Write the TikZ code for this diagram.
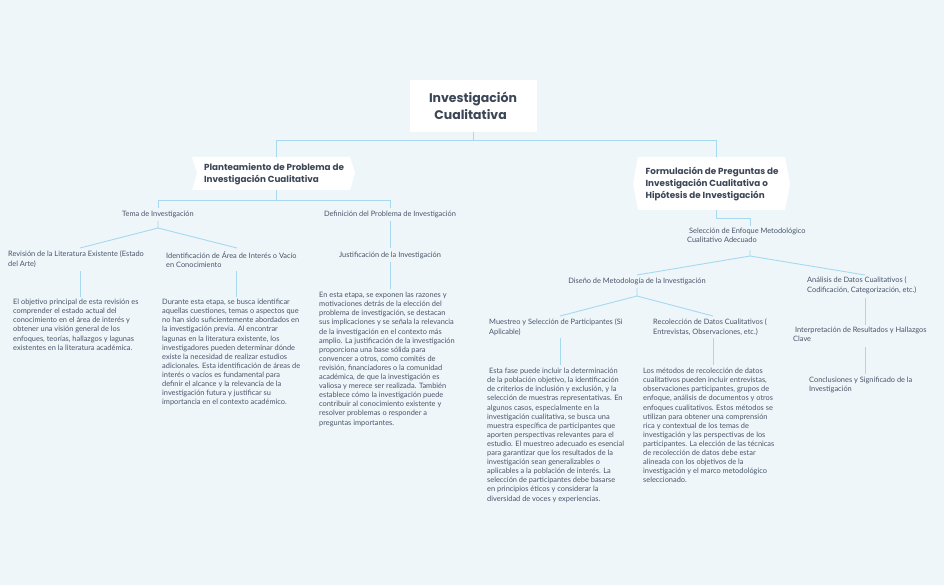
\documentclass[tikz,border=0pt]{standalone}
\usepackage{fontspec}
\setmainfont{Lato}
\newfontfamily\headfont{Poppins}
\definecolor{bg}{HTML}{EEF6FA}
\definecolor{ln}{HTML}{A6D9F0}
\definecolor{tx}{HTML}{4A5568}
\definecolor{tt}{HTML}{3B4656}
\begin{document}
\begin{tikzpicture}[x=1pt,y=-1pt,
  lbl/.style={text=tx,font=\fontsize{7.4}{9.2}\selectfont,inner sep=0pt,align=left},
  par/.style={text=tx,font=\fontsize{7.4}{9.1}\selectfont,inner sep=0pt,align=left,anchor=north west},
  hd/.style={text=tt,font=\headfont\bfseries\fontsize{8.8}{12}\selectfont,align=left,inner sep=0pt},
  con/.style={draw=ln,line width=0.9pt}]
\fill[bg] (0,0) rectangle (944,585);
\useasboundingbox (0,0) rectangle (944,585);
% title
\fill[white] (410,80) rectangle (537,132);
\node[text=tt,font=\headfont\bfseries\fontsize{12.5}{17}\selectfont,align=left,inner sep=0pt] (t) at (473,106) {Investigación\\\ \ Cualitativa};
% level 1 boxes
\fill[white] (192,157) -- (350,157) -- (355,173) -- (350,190) -- (192,190) -- (197,173) -- cycle;
\node[hd] (a) at (274,174) {Planteamiento de Problema de\\Investigación Cualitativa};
\fill[white] (638,157) -- (785,157) -- (790,184) -- (785,210) -- (638,210) -- (633,184) -- cycle;
\node[hd] (b) at (712,184) {Formulación de Preguntas de\\Investigación Cualitativa o\\Hipótesis de Investigación};
\draw[con] (473,132) -- (473,140) -| (276,157);
\draw[con] (473,140) -| (716,157);
% left branch
\node[lbl] (tema) at (158,214) {Tema de Investigación};
\node[lbl] (defi) at (390,214) {Definición del Problema de Investigación};
\draw[con] (276,190) -- (276,200) -| (158,208);
\draw[con] (276,200) -| (390,208);
\draw[con] (158,221) -- (158,228) -- (80,248);
\draw[con] (158,228) -- (237,248);
\node[lbl,anchor=north west] (rev) at (8,251) {Revisión de la Literatura Existente (Estado\\del Arte)};
\node[lbl,anchor=north west] (ide) at (166,251) {Identificación de Área de Interés o Vacío\\en Conocimiento};
\draw[con] (80,271) -- (80,297);
\draw[con] (236,271) -- (236,297);
\node[par] (p1) at (13,299) {El objetivo principal de esta revisión es\\comprender el estado actual del\\conocimiento en el área de interés y\\obtener una visión general de los\\enfoques, teorías, hallazgos y lagunas\\existentes en la literatura académica.};
\node[par] (p2) at (162,299) {Durante esta etapa, se busca identificar\\aquellas cuestiones, temas o aspectos que\\no han sido suficientemente abordados en\\la investigación previa. Al encontrar\\lagunas en la literatura existente, los\\investigadores pueden determinar dónde\\existe la necesidad de realizar estudios\\adicionales. Esta identificación de áreas de\\interés o vacíos es fundamental para\\definir el alcance y la relevancia de la\\investigación futura y justificar su\\importancia en el contexto académico.};
\draw[con] (390,221) -- (390,248);
\node[lbl] (jus) at (390,255) {Justificación de la Investigación};
\draw[con] (390,262) -- (390,289);
\node[par] (p3) at (319,292) {En esta etapa, se exponen las razones y\\motivaciones detrás de la elección del\\problema de investigación, se destacan\\sus implicaciones y se señala la relevancia\\de la investigación en el contexto más\\amplio. La justificación de la investigación\\proporciona una base sólida para\\convencer a otros, como comités de\\revisión, financiadores o la comunidad\\académica, de que la investigación es\\valiosa y merece ser realizada. También\\establece cómo la investigación puede\\contribuir al conocimiento existente y\\resolver problemas o responder a\\preguntas importantes.};
% right branch
\draw[con] (716,210) -- (716,218) -| (750,226);
\node[lbl,anchor=north west] (sel) at (687,228) {\ Selección de Enfoque Metodológico\\Cualitativo Adecuado};
\draw[con] (750,250) -- (750,256) -- (637,275);
\draw[con] (750,256) -- (865,275);
\node[lbl] (dis) at (637,281) {Diseño de Metodología de la Investigación};
\node[lbl,anchor=north west] (ana) at (807,277) {Análisis de Datos Cualitativos (\\Codificación, Categorización, etc.)};
\draw[con] (637,288) -- (637,296) -- (560,316);
\draw[con] (637,296) -- (713,316);
\node[lbl,anchor=north west] (mue) at (489,319) {Muestreo y Selección de Participantes (Si\\Aplicable)};
\node[lbl,anchor=north west] (rec) at (653,319) {Recolección de Datos Cualitativos (\\Entrevistas, Observaciones, etc.)};
\draw[con] (560,338) -- (560,365);
\draw[con] (713,338) -- (713,365);
\node[par] (p4) at (487,368) {\ Esta fase puede incluir la determinación\\de la población objetivo, la identificación\\de criterios de inclusión y exclusión, y la\\selección de muestras representativas. En\\algunos casos, especialmente en la\\investigación cualitativa, se busca una\\muestra específica de participantes que\\aporten perspectivas relevantes para el\\estudio. El muestreo adecuado es esencial\\para garantizar que los resultados de la\\investigación sean generalizables o\\aplicables a la población de interés. La\\selección de participantes debe basarse\\en principios éticos y considerar la\\diversidad de voces y experiencias.};
\node[par] (p5) at (643,368) {Los métodos de recolección de datos\\cualitativos pueden incluir entrevistas,\\observaciones participantes, grupos de\\enfoque, análisis de documentos y otros\\enfoques cualitativos. Estos métodos se\\utilizan para obtener una comprensión\\rica y contextual de los temas de\\investigación y las perspectivas de los\\participantes. La elección de las técnicas\\de recolección de datos debe estar\\alineada con los objetivos de la\\investigación y el marco metodológico\\seleccionado.};
\draw[con] (865,298) -- (865,325);
\node[lbl,anchor=north west] (int) at (793,327) {\ Interpretación de Resultados y Hallazgos\\Clave};
\draw[con] (865,347) -- (865,374);
\node[lbl,anchor=north west] (conc) at (809,377) {Conclusiones y Significado de la\\Investigación};
\end{tikzpicture}
\end{document}
